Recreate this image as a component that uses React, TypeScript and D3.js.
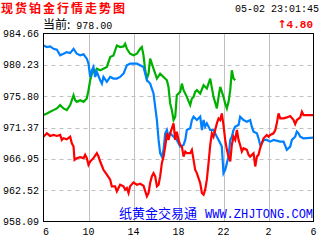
import React from "react";
import * as d3 from "d3";

// time = hours after 06:00, price
const greenSeries: [number, number][] = [
  [0.0, 973.13], [0.3, 973.36], [0.59, 973.6], [0.89, 973.83], [1.19, 974.07], [1.48, 974.54],
  [1.78, 974.07], [2.07, 973.83], [2.37, 974.54], [2.67, 975.94], [2.81, 975.24], [2.96, 975.0],
  [3.26, 975.24], [3.56, 975.0], [3.85, 975.47], [4.0, 976.65], [4.15, 978.05], [4.3, 978.99],
  [4.44, 979.46], [4.59, 979.22], [4.74, 979.69], [5.04, 979.46], [5.33, 979.69], [5.63, 979.93],
  [5.93, 981.33], [6.22, 981.57], [6.52, 982.97], [6.81, 982.74], [7.11, 982.83], [7.26, 983.21],
  [7.41, 982.5], [7.7, 981.8], [8.0, 981.57], [8.3, 981.8], [8.59, 982.5], [8.74, 982.74],
  [8.89, 981.57], [9.04, 979.46], [9.19, 978.29], [9.34, 978.99], [9.48, 981.1], [9.63, 980.39],
  [9.78, 979.69], [10.08, 978.29], [10.37, 978.99], [10.67, 978.52], [10.97, 978.05], [11.11, 977.11],
  [11.26, 974.77], [11.41, 973.83], [11.56, 972.43], [11.71, 972.9], [11.85, 975.94], [12.15, 976.41],
  [12.3, 977.58], [12.45, 976.65], [12.74, 975.71], [13.04, 974.54], [13.19, 975.47], [13.34, 975.71],
  [13.48, 976.41], [13.63, 976.65], [13.93, 976.18], [14.23, 977.35], [14.52, 976.88], [14.82, 978.29],
  [15.11, 975.71], [15.41, 974.07], [15.56, 975.71], [15.71, 977.11], [16.0, 975.71], [16.15, 974.77],
  [16.3, 974.07], [16.45, 975.0], [16.6, 976.65], [16.74, 979.46], [16.89, 978.29], [17.04, 978.05],
];

const blueSeries: [number, number][] = [
  [0.0, 982.97], [0.3, 982.74], [0.59, 982.83], [0.89, 982.5], [1.19, 982.36], [1.48, 981.57],
  [1.78, 981.8], [2.07, 982.03], [2.37, 981.89], [2.67, 982.5], [2.96, 981.8], [3.26, 981.57],
  [3.56, 981.71], [3.85, 981.1], [4.0, 980.39], [4.15, 978.52], [4.3, 979.46], [4.44, 979.93],
  [4.59, 978.52], [4.74, 979.22], [5.04, 978.05], [5.19, 977.58], [5.33, 978.52], [5.63, 977.82],
  [5.93, 978.52], [6.22, 978.29], [6.52, 978.29], [6.81, 978.52], [7.11, 978.99], [7.41, 980.16],
  [7.7, 980.39], [8.3, 980.39], [8.89, 979.93], [9.19, 978.05], [9.48, 977.58], [9.78, 976.18],
  [9.93, 974.3], [10.08, 972.43], [10.23, 969.62], [10.37, 967.74], [10.52, 967.27], [10.67, 968.21],
  [10.82, 970.55], [10.97, 971.02], [11.11, 970.08], [11.26, 970.55], [11.56, 970.08], [11.85, 969.62],
  [12.15, 968.68], [12.45, 968.91], [12.6, 969.62], [12.74, 971.02], [13.04, 971.26], [13.19, 972.43],
  [13.34, 972.9], [13.63, 972.43], [13.93, 972.9], [14.08, 971.02], [14.23, 972.43], [14.37, 971.49],
  [14.52, 971.96], [14.82, 971.02], [15.11, 971.02], [15.41, 970.08], [15.71, 969.15], [15.85, 968.68],
  [16.0, 964.93], [16.15, 965.4], [16.3, 966.34], [16.45, 967.27], [16.6, 969.62], [16.74, 970.08],
  [16.89, 971.02], [17.04, 971.49], [17.34, 971.72], [17.48, 972.9], [17.78, 972.43], [18.08, 972.19],
  [18.37, 972.43], [18.52, 971.49], [18.67, 970.79], [18.97, 970.55], [19.11, 969.85], [19.26, 968.91],
  [19.41, 969.15], [19.56, 969.62], [19.85, 969.62], [20.15, 969.38], [20.45, 969.62], [21.04, 969.38],
  [21.34, 969.38], [21.63, 968.21], [21.93, 968.68], [22.08, 969.62], [22.37, 970.08], [22.52, 970.79],
  [22.67, 970.55], [22.82, 970.08], [23.11, 969.85], [24.0, 969.94],
];

const redSeries: [number, number][] = [
  [0.0, 970.08], [0.3, 970.55], [0.59, 970.18], [0.89, 970.32], [1.19, 970.18], [1.48, 970.32],
  [1.63, 969.62], [1.78, 969.85], [2.07, 969.71], [2.37, 970.08], [2.52, 969.15], [2.67, 968.68],
  [2.76, 966.8], [2.96, 967.04], [3.26, 967.18], [3.56, 967.04], [3.7, 967.51], [3.85, 967.04],
  [4.0, 966.1], [4.15, 966.57], [4.44, 967.04], [4.74, 967.74], [4.89, 967.27], [5.04, 966.57],
  [5.33, 965.4], [5.63, 964.7], [5.93, 964.0], [6.07, 963.06], [6.37, 963.06], [6.52, 962.35],
  [6.81, 963.29], [7.11, 963.06], [7.26, 962.59], [7.41, 962.82], [7.56, 962.12], [7.7, 963.06],
  [8.0, 963.62], [8.3, 963.29], [8.59, 963.43], [8.89, 963.15], [9.19, 961.65], [9.34, 962.12],
  [9.48, 963.52], [9.63, 964.46], [9.78, 964.93], [9.93, 964.46], [10.08, 963.06], [10.23, 963.29],
  [10.37, 964.46], [10.52, 966.34], [10.67, 967.27], [10.82, 968.68], [10.97, 970.55], [11.11, 969.62],
  [11.26, 970.55], [11.41, 971.26], [11.56, 971.96], [11.71, 969.62], [11.85, 970.79], [12.0, 969.62],
  [12.15, 968.91], [12.3, 968.68], [12.45, 967.27], [12.6, 967.98], [12.74, 967.74], [13.04, 967.74],
  [13.19, 968.21], [13.34, 966.8], [13.48, 965.4], [13.63, 964.93], [13.78, 964.23], [13.93, 963.52],
  [14.08, 962.12], [14.23, 961.88], [14.37, 962.59], [14.52, 964.0], [14.67, 966.34], [14.82, 968.91],
  [14.97, 970.55], [15.11, 970.08], [15.26, 971.02], [15.41, 971.96], [15.56, 972.66], [15.71, 972.43],
  [15.85, 973.36], [16.0, 971.72], [16.15, 969.62], [16.3, 968.21], [16.45, 967.27], [16.6, 966.57],
  [16.74, 968.91], [16.89, 970.08], [17.04, 969.62], [17.19, 971.02], [17.34, 969.62], [17.48, 968.91],
  [17.63, 967.98], [17.78, 968.44], [18.08, 968.21], [18.23, 967.51], [18.37, 967.27], [18.67, 967.74],
  [18.82, 965.87], [18.97, 967.27], [19.11, 967.51], [19.26, 968.44], [19.41, 969.15], [19.56, 969.85],
  [19.85, 970.32], [20.0, 970.08], [20.15, 970.32], [20.45, 970.55], [20.6, 971.02], [20.74, 971.96],
  [20.89, 973.36], [21.04, 972.66], [21.34, 972.66], [21.63, 972.8], [21.93, 972.99], [22.23, 972.43],
  [22.37, 971.87], [22.52, 972.43], [22.82, 972.8], [22.97, 973.6], [23.11, 973.13], [24.0, 973.13],
];

const yTickLabels = ["984.66", "980.23", "975.80", "971.37", "966.95", "962.52", "958.09"];
const xTickHours = [0, 4, 8, 12, 16, 20, 24];
const xTickLabels = ["6", "10", "14", "18", "22", "2", "6"];

const titleText = "现货铂金行情走势图";
const timeText = "05-02 23:01:45";
const currentLabel = "当前:";
const currentValue = " 978.00";
const changeValue = "4.80";
const watermarkCn = "纸黄金交易通";
const watermarkEn = "WWW.ZHJTONG.COM";

const W = 320;
const H = 240;
const L = 43.5, R = 313.5, T = 33.5, B = 221.5;
const MONO = "'Liberation Mono', 'DejaVu Sans Mono', monospace";
const CJK = "'Noto Sans CJK SC', sans-serif";

export default function App() {
  const yMin = +yTickLabels[yTickLabels.length - 1];
  const yMax = +yTickLabels[0];
  const x = d3.scaleLinear().domain([0, 24]).range([L, R]);
  const y = d3.scaleLinear().domain([yMin, yMax]).range([B, T]);
  const line = d3
    .line<[number, number]>()
    .x((d) => x(d[0]))
    .y((d) => y(d[1]));

  const yVals = yTickLabels.map((s) => +s);

  return (
    <svg
      width={W}
      height={H}
      style={{ position: "absolute", left: 0, top: 0, background: "#fff" }}
    >
      <rect x={0} y={0} width={W} height={H} fill="#fff" />
      <text x={1} y={13} fill="#ff0000" fontFamily={CJK} fontWeight="bold" fontSize={12} letterSpacing={2}>
        {titleText}
      </text>
      <text x={319} y={12} textAnchor="end" fill="#000" fontFamily={MONO} fontSize={10}>
        {timeText}
      </text>
      <text x={43} y={29} fill="#000">
        <tspan fontFamily={CJK} fontSize={12}>{currentLabel}</tspan>
        <tspan fontFamily={MONO} fontSize={10}>{currentValue}</tspan>
      </text>
      <text x={313} y={28} textAnchor="end" fill="#ff0000" fontWeight="bold">
        <tspan fontFamily="'DejaVu Sans', sans-serif" fontSize={11}>↑</tspan>
        <tspan fontFamily={MONO} fontSize={11}>{changeValue}</tspan>
      </text>

      {/* grid */}
      {xTickHours.slice(1, -1).map((h) => (
        <line key={"v" + h} x1={Math.round(x(h)) + 0.5} x2={Math.round(x(h)) + 0.5} y1={T} y2={B} stroke="#c0c0c0" strokeWidth={1} />
      ))}
      {yVals.slice(1, -1).map((v) => (
        <line key={"h" + v} x1={L} x2={R} y1={Math.round(y(v)) + 0.5} y2={Math.round(y(v)) + 0.5} stroke="#c0c0c0" strokeWidth={1} strokeDasharray="4,4" />
      ))}

      {/* watermark */}
      <text x={119} y={218} fill="#0000ff">
        <tspan fontFamily={CJK} fontSize={13}>{watermarkCn}</tspan>
        <tspan dx={8} fontFamily={MONO} fontSize={12}>{watermarkEn}</tspan>
      </text>

      <g fill="none" strokeWidth={2.2} strokeLinejoin="miter">
        <path d={line(greenSeries) || ""} stroke="#00b000" />
        <path d={line(blueSeries) || ""} stroke="#0080ff" />
        <path d={line(redSeries) || ""} stroke="#ff0000" />
      </g>

      {/* frame */}
      <rect x={L} y={T} width={R - L} height={B - T} fill="none" stroke="#000" strokeWidth={1} />

      {/* y labels */}
      {yVals.map((v, i) => (
        <text key={"yl" + i} x={39} y={y(v) + 3.5} textAnchor="end" fontFamily={MONO} fontSize={10} fill="#000">
          {yTickLabels[i]}
        </text>
      ))}
      {/* x labels */}
      {xTickHours.map((h, i) => (
        <text
          key={"xl" + i}
          x={i === 0 ? x(h) - 0.5 : x(h)}
          y={235}
          textAnchor={i === 0 ? "start" : "middle"}
          fontFamily={MONO}
          fontSize={10}
          fill="#000"
        >
          {xTickLabels[i]}
        </text>
      ))}
    </svg>
  );
}
